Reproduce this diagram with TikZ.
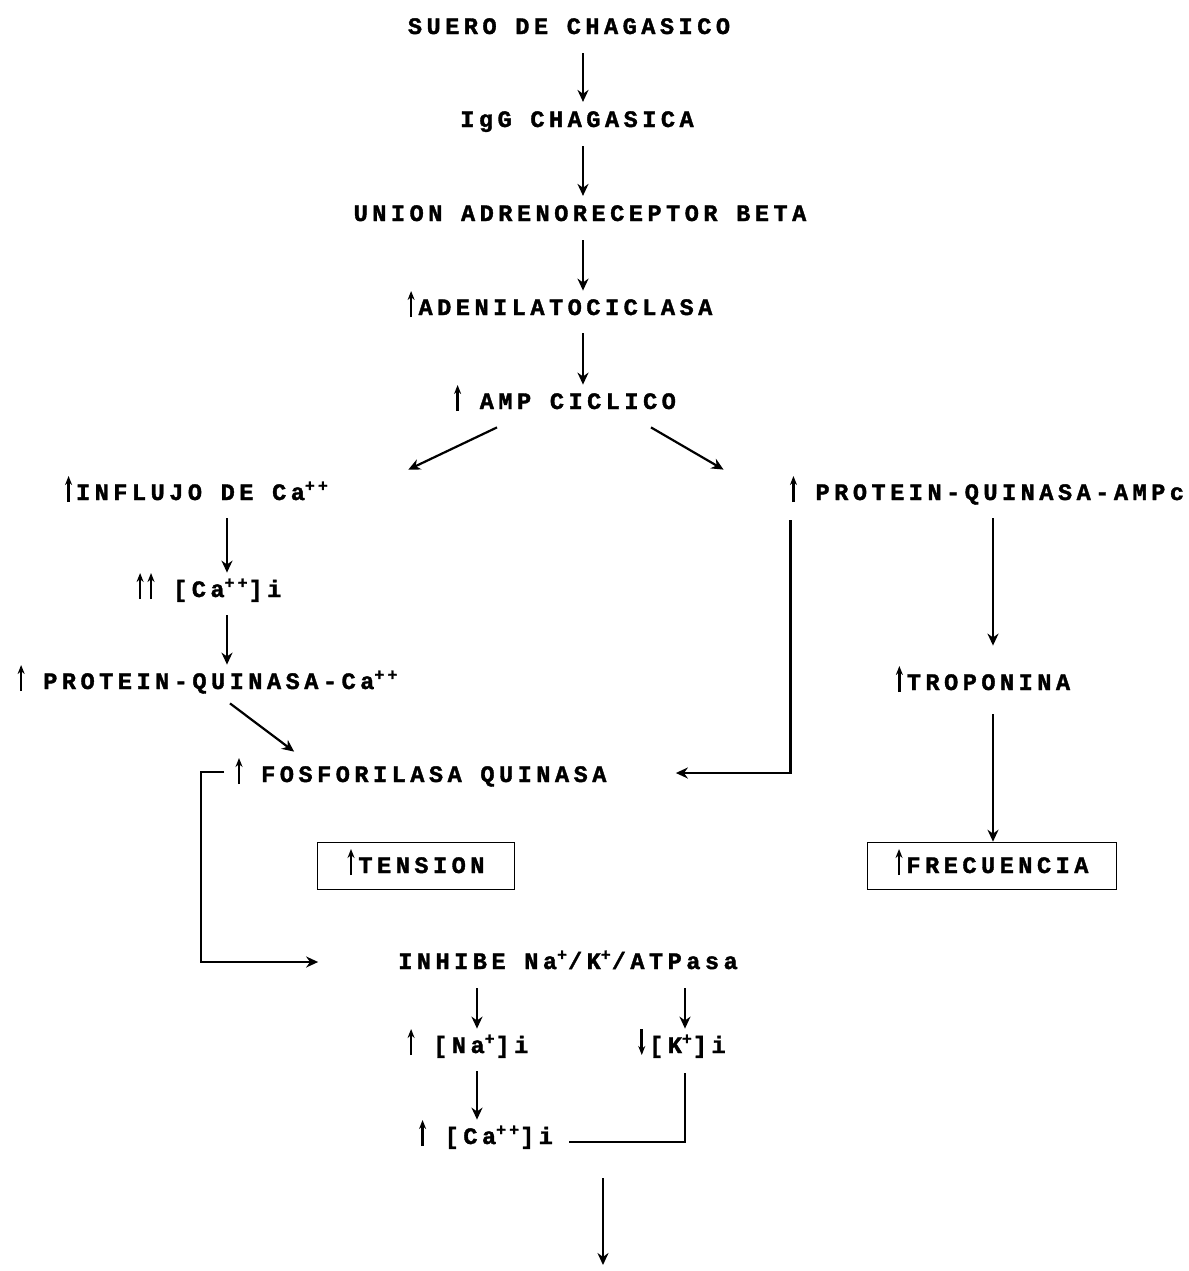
\documentclass[tikz,border=0pt]{standalone}
\usepackage{fontspec}
\setmainfont{Liberation Mono}[LetterSpace=19,FakeBold=1.5]
\usetikzlibrary{arrows.meta,calc}
\newcommand{\flecha}{-{Stealth[length=6pt,width=5.5pt]}}
% small arrows that mark a rise or a fall
\newcommand{\sube}{\tikz[baseline=0pt]\draw[-{Stealth[length=4.5pt,width=3.5pt]},line width=1.3pt] (0,-1pt) -- (0,12pt);}
\newcommand{\baja}{\tikz[baseline=0pt]\draw[-{Stealth[length=4.5pt,width=3.5pt]},line width=1.3pt] (0,12pt) -- (0,-1pt);}

\begin{document}
\begin{tikzpicture}[x=0.5pt,y=-0.5pt,line width=1.1pt,
    paso/.style={font=\bfseries\fontsize{11.8pt}{14pt}\selectfont,inner sep=2pt,text height=7pt,text depth=0pt},
    caja/.style={paso,draw,line width=0.8pt,minimum height=23.5pt},
    corto/.style={shorten <=7pt,shorten >=3pt}]
    \useasboundingbox (0,0) rectangle (1189,1271);

    % main chain
    \node[paso] (suero) at (569,27) {SUERO DE CHAGASICO};
    \node[paso] (igg) at (577,120) {IgG CHAGASICA};
    \node[paso] (union) at (580,214) {UNION ADRENORECEPTOR BETA};
    \node[paso] (adenil) at (560,308) {\sube\,ADENILATOCICLASA};
    \node[paso] (amp) at (565,402) {\sube\ AMP CICLICO};

    % left branch
    \node[paso] (influjo) at (197,493) {\sube\,INFLUJO DE Ca\textsuperscript{++}};
    \node[paso] (caint) at (209,590) {\sube\,\sube\ [Ca\textsuperscript{++}]i};
    \node[paso] (pqca) at (208,682) {\sube\ PROTEIN-QUINASA-Ca\textsuperscript{++}};
    \node[paso] (fosfo) at (421,775) {\sube\ FOSFORILASA QUINASA};
    \node[caja,minimum width=98.5pt] (tension) at (416,866) {\sube\,TENSION};

    % right branch
    \node[paso] (pqampc) at (987,493) {\sube\ PROTEIN-QUINASA-AMPc};
    \node[paso] (tropo) at (983,683) {\sube\,TROPONINA};
    \node[caja,minimum width=124.5pt] (frec) at (992,866) {\sube\,FRECUENCIA};

    % pump
    \node[paso] (inhibe) at (568,962) {INHIBE Na\textsuperscript{+}/K\textsuperscript{+}/ATPasa};
    \node[paso] (na) at (468,1046) {\sube\ [Na\textsuperscript{+}]i};
    \node[paso] (k) at (682,1046) {\baja\,[K\textsuperscript{+}]i};
    \node[paso] (caint2) at (486,1137) {\sube\ [Ca\textsuperscript{++}]i};

    \coordinate (eje) at (583,0);
    \coordinate (ejeizq) at (227,0);
    \coordinate (ejeder) at (993,0);
    \coordinate (ejena) at (477,0);
    \coordinate (ejek) at (685,0);
    \coordinate (final) at (603,1265);

    \draw[\flecha,corto] (suero.south -| eje) -- (igg.north -| eje);
    \draw[\flecha,corto] (igg.south -| eje) -- (union.north -| eje);
    \draw[\flecha,corto] (union.south -| eje) -- (adenil.north -| eje);
    \draw[\flecha,corto] (adenil.south -| eje) -- (amp.north -| eje);
    \draw[\flecha] ($(amp.south)+(-68,14)$) -- ($(influjo.north east)+(75,-12)$);
    \draw[\flecha] ($(amp.south)+(86,14)$) -- ($(pqampc.north west)+(-62,-12)$);

    \draw[\flecha,corto] (influjo.south -| ejeizq) -- (caint.north -| ejeizq);
    \draw[\flecha,corto] (caint.south -| ejeizq) -- (pqca.north -| ejeizq);
    \draw[\flecha] ($(pqca.south)+(22,10)$) -- ($(fosfo.north west)+(63,-12)$);
    \draw[\flecha] ($(pqampc.south west)+(5,16)$) |- ($(fosfo.east)+(65,-2)$);

    \draw[\flecha,corto,shorten >=13pt] (pqampc.south -| ejeder) -- (tropo.north -| ejeder);
    \draw[\flecha,shorten <=10pt] (tropo.south -| ejeder) -- (frec.north -| ejeder);

    \draw[\flecha] ($(fosfo.west)+(-7,-3)$) -- ++(-23,0) |- ($(inhibe.west)+(-75,0)$);
    \draw[\flecha,corto] (inhibe.south -| ejena) -- (na.north -| ejena);
    \draw[\flecha,corto] (inhibe.south -| ejek) -- (k.north -| ejek);
    \draw[\flecha,corto] (na.south -| ejena) -- (caint2.north -| ejena);
    \draw[shorten <=8pt] (k.south -| ejek) |- ($(caint2.east)+(12,5)$);
    \draw[\flecha,shorten <=15pt] (final |- caint2.south) -- (final);
\end{tikzpicture}
\end{document}
